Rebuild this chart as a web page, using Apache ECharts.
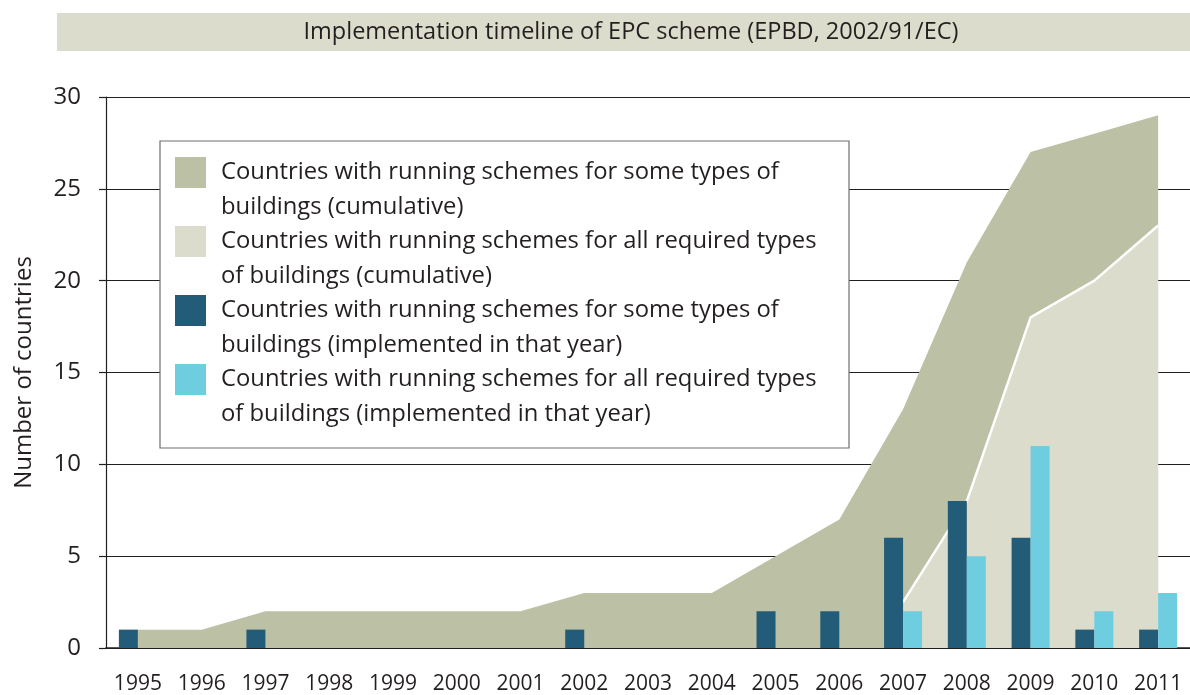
<!DOCTYPE html>
<html>
<head>
    <meta charset="UTF-8">
    <title>Implementation timeline of EPC scheme</title>
    <script src="https://cdn.jsdelivr.net/npm/echarts@6/dist/echarts.min.js"></script>
</head>
<body style="margin:0;">
    <div id="main" style="width: 1190px;height:695px;"></div>
    <script type="text/javascript">
        var myChart = echarts.init(document.getElementById('main'));

        // data
        var years = ['1995', '1996', '1997', '1998', '1999', '2000', '2001', '2002', '2003',
                     '2004', '2005', '2006', '2007', '2008', '2009', '2010', '2011'];
        var someCumulative = [1, 1, 2, 2, 2, 2, 2, 3, 3, 3, 5, 7, 13, 21, 27, 28, 29];
        var allCumulative = ['-', '-', '-', '-', '-', '-', '-', '-', '-', '-', '-', '-', 2.5, 8, 18, 20, 23];
        var someYear = [1, '-', 1, '-', '-', '-', '-', 1, '-', '-', 2, 2, 6, 8, 6, 1, 1];
        var allYear = ['-', '-', '-', '-', '-', '-', '-', '-', '-', '-', '-', '-', 2, 5, 11, 2, 3];
        var yTicks = [0, 5, 10, 15, 20, 25, 30];

        var names = [
            'Countries with running schemes for some types of\nbuildings (cumulative)',
            'Countries with running schemes for all required types\nof buildings (cumulative)',
            'Countries with running schemes for some types of\nbuildings (implemented in that year)',
            'Countries with running schemes for all required types\nof buildings (implemented in that year)'
        ];

        var textColor = '#231f20';
        var font = 'Open Sans';

        var option = {
            animation: false,
            textStyle: { fontFamily: font, color: textColor },
            grid: { left: 106, top: 97, width: 1088, height: 551 },
            legend: {
                orient: 'vertical',
                left: 175,
                top: 120,
                padding: 0,
                icon: 'rect',
                itemWidth: 31,
                itemHeight: 31,
                itemGap: -36,
                selectedMode: false,
                itemStyle: { borderWidth: 0 },
                // empty first line so that the first text line sits next to the swatch
                formatter: function (name) { return '\n' + name; },
                textStyle: {
                    fontFamily: font,
                    fontSize: 23.8,
                    color: textColor,
                    lineHeight: 35,
                    padding: [0, 0, 0, 10]
                },
                data: names
            },
            graphic: [
                {
                    type: 'rect',
                    z: 0,
                    shape: { x: 57, y: 13, width: 1133, height: 38 },
                    style: { fill: '#dbdccb' }
                },
                {
                    type: 'text',
                    z: 1,
                    x: 631,
                    y: 32,
                    style: {
                        text: 'Implementation timeline of EPC scheme (EPBD, 2002/91/EC)',
                        fontFamily: font,
                        fontSize: 23.5,
                        fill: textColor,
                        textAlign: 'center',
                        textVerticalAlign: 'middle'
                    }
                },
                {
                    type: 'rect',
                    z: 3,
                    shape: { x: 160, y: 141, width: 689, height: 307 },
                    style: { fill: '#ffffff', stroke: '#6d6e71', lineWidth: 1.2 }
                }
            ],
            xAxis: {
                type: 'category',
                data: years,
                boundaryGap: true,
                axisLine: { lineStyle: { color: '#231f20', width: 1.6 } },
                axisTick: { interval: 0, length: 10, lineStyle: { color: '#231f20', width: 1.2 } },
                axisLabel: { interval: 0, margin: 26, fontSize: 21, color: textColor, fontFamily: font },
                splitLine: { show: false }
            },
            yAxis: {
                type: 'value',
                min: yTicks[0],
                max: yTicks[yTicks.length - 1],
                interval: 5,
                name: 'Number of countries',
                nameLocation: 'middle',
                nameGap: 70,
                nameTextStyle: { fontSize: 24, color: textColor, fontFamily: font },
                axisLine: { show: true, lineStyle: { color: '#231f20', width: 1.2 } },
                axisTick: { show: true, length: 7, lineStyle: { color: '#231f20', width: 1.2 } },
                axisLabel: { margin: 25, fontSize: 24, color: textColor, fontFamily: font },
                splitLine: { lineStyle: { color: '#231f20', width: 1.2 } }
            },
            series: [
                {
                    name: names[0],
                    type: 'line',
                    data: someCumulative,
                    symbol: 'none',
                    itemStyle: { color: '#bcc0a4' },
                    lineStyle: { width: 0, color: '#bcc0a4' },
                    areaStyle: { color: '#bcc0a4', opacity: 1 },
                    z: 1
                },
                {
                    name: names[1],
                    type: 'line',
                    data: allCumulative,
                    symbol: 'none',
                    itemStyle: { color: '#dbdccb' },
                    lineStyle: { width: 2.5, color: '#ffffff' },
                    areaStyle: { color: '#dbdccb', opacity: 1 },
                    z: 1.5
                },
                {
                    name: names[2],
                    type: 'bar',
                    data: someYear,
                    barWidth: 19,
                    barGap: '0%',
                    itemStyle: { color: '#225c78' },
                    z: 2
                },
                {
                    name: names[3],
                    type: 'bar',
                    data: allYear,
                    barWidth: 19,
                    barGap: '0%',
                    itemStyle: { color: '#6fcde0' },
                    z: 2
                }
            ]
        };

        myChart.setOption(option);
    </script>
</body>
</html>
